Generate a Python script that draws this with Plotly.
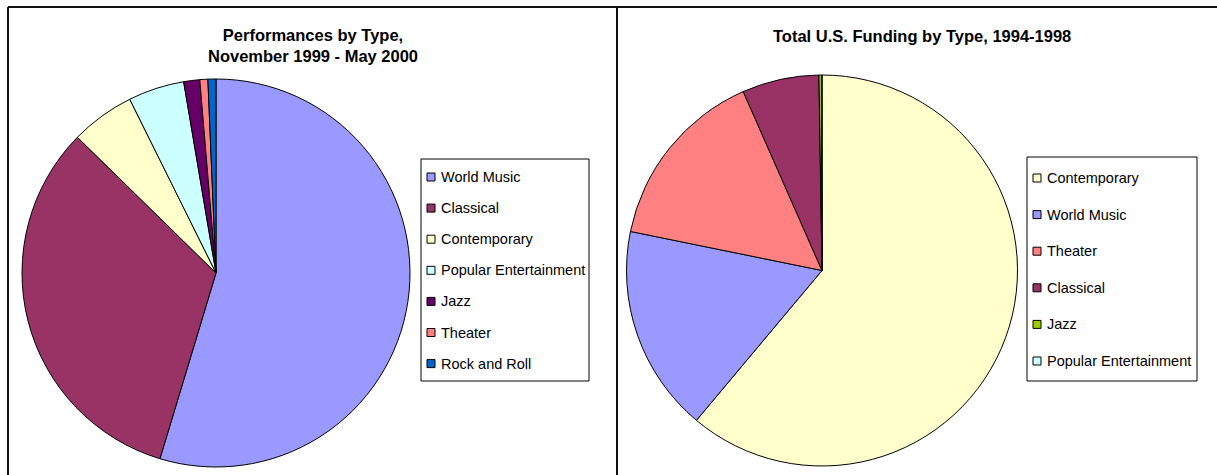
import plotly.graph_objects as go

W, H = 1217, 475

# Left chart data: performances by type (counts)
left_labels = ["World Music", "Classical", "Contemporary", "Popular Entertainment", "Jazz", "Theater", "Rock and Roll"]
left_values = [82, 49, 8, 7, 2, 1, 1]
left_colors = ["#9999FF", "#993366", "#FFFFCC", "#CCFFFF", "#660066", "#FF8080", "#0066CC"]

# Right chart data: total U.S. funding by type (percent)
right_labels = ["Contemporary", "World Music", "Theater", "Classical", "Jazz", "Popular Entertainment"]
right_values = [61.1, 17.1, 15.2, 6.35, 0.22, 0.03]
right_colors = ["#FFFFCC", "#9999FF", "#FF8080", "#993366", "#99CC00", "#CCFFFF"]

left_title = "Performances by Type,<br>November 1999 - May 2000"
right_title = "Total U.S. Funding by Type, 1994-1998"

FONT = "Liberation Sans, Arial, sans-serif"


def px(x):
    return x / W


def py(y):
    return 1 - y / H


fig = go.Figure()

fig.add_trace(go.Pie(
    labels=left_labels, values=left_values, sort=False, direction="clockwise", rotation=0,
    marker=dict(colors=left_colors, line=dict(color="#000000", width=1)),
    textinfo="none", showlegend=False,
    domain=dict(x=[px(22), px(410)], y=[py(467), py(79)]),
))
fig.add_trace(go.Pie(
    labels=right_labels, values=right_values, sort=False, direction="clockwise", rotation=0,
    marker=dict(colors=right_colors, line=dict(color="#000000", width=1)),
    textinfo="none", showlegend=False,
    domain=dict(x=[px(626), px(1018)], y=[py(466), py(75)]),
))

shapes = []
annotations = []

# panel borders
for (x0, y0, x1, y1) in [(8, 7, 1217, 7), (8, 7, 8, 475), (617, 7, 617, 475)]:
    shapes.append(dict(type="line", xref="paper", yref="paper", x0=px(x0), y0=py(y0), x1=px(x1), y1=py(y1),
                       line=dict(color="#111111", width=2)))

# titles
annotations.append(dict(text="<b>" + left_title + "</b>", x=px(313), y=py(45.5), xref="paper", yref="paper",
                        showarrow=False, font=dict(family=FONT, size=16.5, color="#000"), xanchor="center", yanchor="middle"))
annotations.append(dict(text="<b>" + right_title + "</b>", x=px(922), y=py(36), xref="paper", yref="paper",
                        showarrow=False, font=dict(family=FONT, size=16.5, color="#000"), xanchor="center", yanchor="middle"))


def add_legend(labels, colors, box, y0, dy):
    bx0, by0, bx1, by1 = box
    shapes.append(dict(type="rect", xref="paper", yref="paper", x0=px(bx0), y0=py(by0), x1=px(bx1), y1=py(by1),
                       line=dict(color="#000000", width=1), fillcolor="#FFFFFF", layer="below"))
    for i, (lab, col) in enumerate(zip(labels, colors)):
        yc = y0 + i * dy
        shapes.append(dict(type="rect", xref="paper", yref="paper", x0=px(bx0 + 6), x1=px(bx0 + 14),
                           y0=py(yc - 4), y1=py(yc + 4), fillcolor=col, line=dict(color="#000000", width=1)))
        annotations.append(dict(text=lab, x=px(bx0 + 18), y=py(yc), xref="paper", yref="paper", showarrow=False,
                                xanchor="left", yanchor="middle", font=dict(family=FONT, size=14.5, color="#000")))


add_legend(left_labels, left_colors, (421, 159, 589, 381), 177, 31.1)
add_legend(right_labels, right_colors, (1027, 157, 1197, 381), 178, 36.6)

fig.update_layout(
    width=W, height=H, autosize=False,
    margin=dict(l=0, r=0, t=0, b=0),
    paper_bgcolor="#FFFFFF", plot_bgcolor="#FFFFFF",
    shapes=shapes, annotations=annotations,
    font=dict(family=FONT),
)

fig.write_html("out.html", config={"displayModeBar": False},
               post_script="document.body.style.margin='0';document.body.style.overflow='hidden';")
